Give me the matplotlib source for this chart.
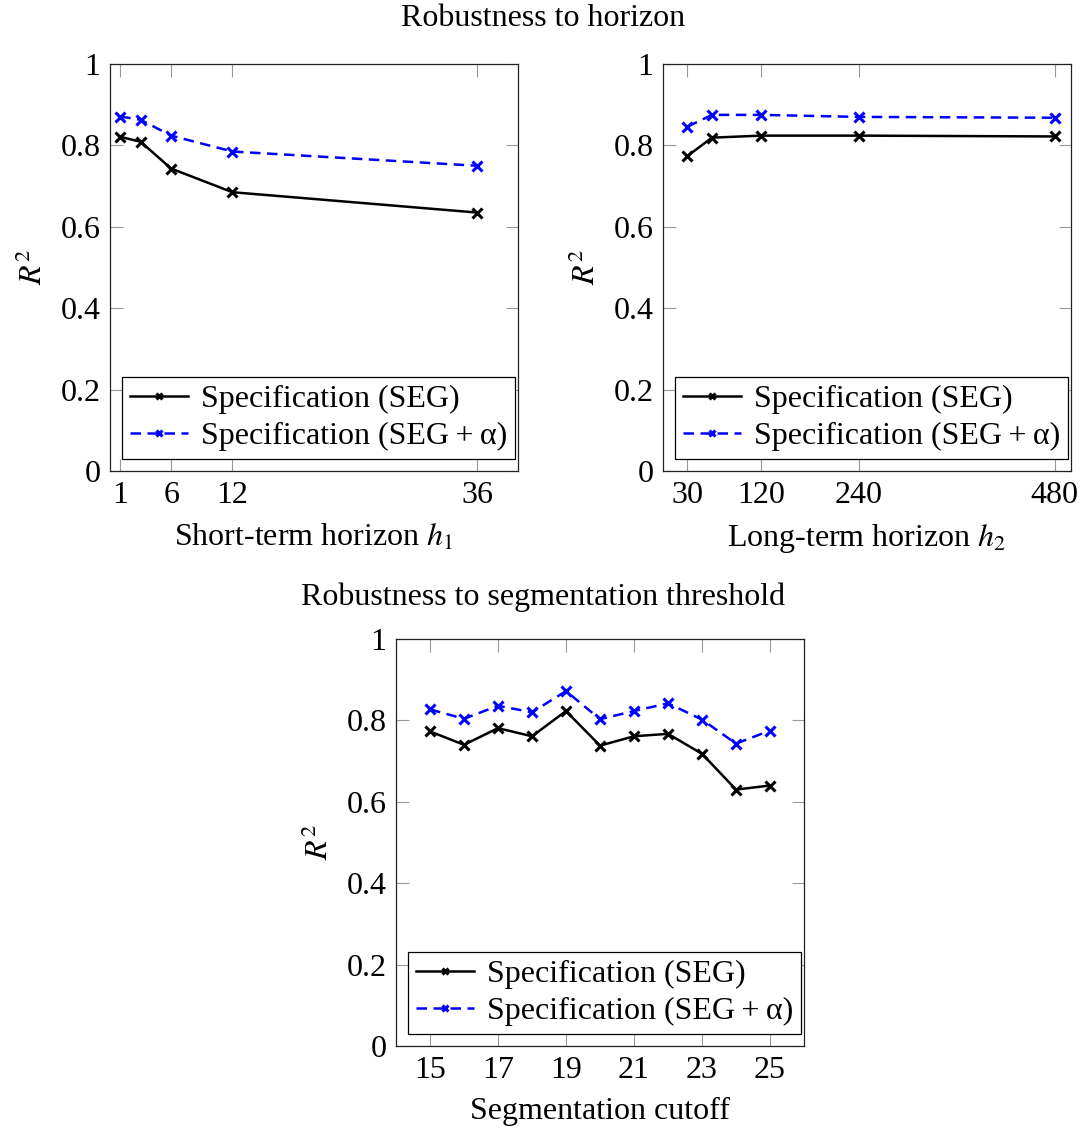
import matplotlib
matplotlib.use("Agg")
from matplotlib import pyplot as plt

plt.rcParams['font.family'] = ['Liberation Serif', 'DejaVu Serif']
plt.rcParams['mathtext.fontset'] = 'stix'

# short-term horizon
h1 = [1, 3, 6, 12, 36]
h1_seg = [0.821, 0.809, 0.743, 0.685, 0.635]
h1_alpha = [0.871, 0.863, 0.824, 0.785, 0.750]

# long-term horizon
h2 = [30, 60, 120, 240, 480]
h2_seg = [0.774, 0.819, 0.824, 0.824, 0.822]
h2_alpha = [0.846, 0.875, 0.875, 0.870, 0.868]

# segmentation cutoff
cut = [15, 16, 17, 18, 19, 20, 21, 22, 23, 24, 25]
cut_seg = [0.773, 0.740, 0.781, 0.761, 0.823, 0.738, 0.761, 0.767, 0.718, 0.630, 0.640]
cut_alpha = [0.827, 0.804, 0.836, 0.820, 0.872, 0.803, 0.823, 0.842, 0.802, 0.743, 0.775]

label = ['Specification (SEG)', 'Specification (SEG\u2009+\u2009α)']
yticks = [0, 0.2, 0.4, 0.6, 0.8, 1]
ytick_labels = ['0', '0.2', '0.4', '0.6', '0.8', '1']

FS = 23
W, H = 1082, 1132

fig = plt.figure(figsize=(W / 100, H / 100), dpi=100)


def make_axes(left, top, xs, seg, alpha, xlim, xticks, xlabel):
    ax = fig.add_axes([left / W, 1 - (top + 407) / H, 408 / W, 407 / H])
    ax.plot(xs, seg, color='black', lw=1.8, marker='x', ms=7, mew=2.2, label=label[0])
    ax.plot(xs, alpha, color='blue', lw=1.8, linestyle=(0, (4.2, 2.6)),
            marker='x', ms=7, mew=2.2, label=label[1])
    ax.set_xlim(*xlim)
    ax.set_ylim(0, 1)
    ax.set_xticks(xticks)
    ax.set_xticklabels([str(t) for t in xticks])
    ax.set_yticks(yticks)
    ax.set_yticklabels(ytick_labels)
    ax.tick_params(direction='in', length=9, width=0.8, color='#999999',
                   top=True, right=True, labelsize=FS, pad=7)
    for s in ax.spines.values():
        s.set_linewidth(0.9)
        s.set_color('#222222')
    ax.set_xlabel(xlabel, fontsize=FS, labelpad=9)
    ax.set_ylabel('$R^2$', fontsize=FS, labelpad=8)
    leg = ax.legend(loc='lower left', bbox_to_anchor=(0.03, 0.03), borderaxespad=0,
                    fontsize=FS, frameon=True, fancybox=False, framealpha=1,
                    edgecolor='black', handlelength=1.8, handletextpad=0.4,
                    borderpad=0.25, labelspacing=0.22, markerscale=0.6)
    leg.get_frame().set_linewidth(0.9)
    return ax


make_axes(110, 64, h1, h1_seg, h1_alpha, (0, 40), [1, 6, 12, 36],
          'Short-term horizon $h_1$')
make_axes(663, 64, h2, h2_seg, h2_alpha, (0, 500), [30, 120, 240, 480],
          'Long-term horizon $h_2$')
make_axes(396, 639, cut, cut_seg, cut_alpha, (14, 26), [15, 17, 19, 21, 23, 25],
          'Segmentation cutoff')

fig.text(543 / W, 1 - 19 / H, 'Robustness to horizon', ha='center', va='center', fontsize=FS)
fig.text(543 / W, 1 - 597 / H, 'Robustness to segmentation threshold',
         ha='center', va='center', fontsize=FS)

fig.savefig('out.png', dpi=100)
